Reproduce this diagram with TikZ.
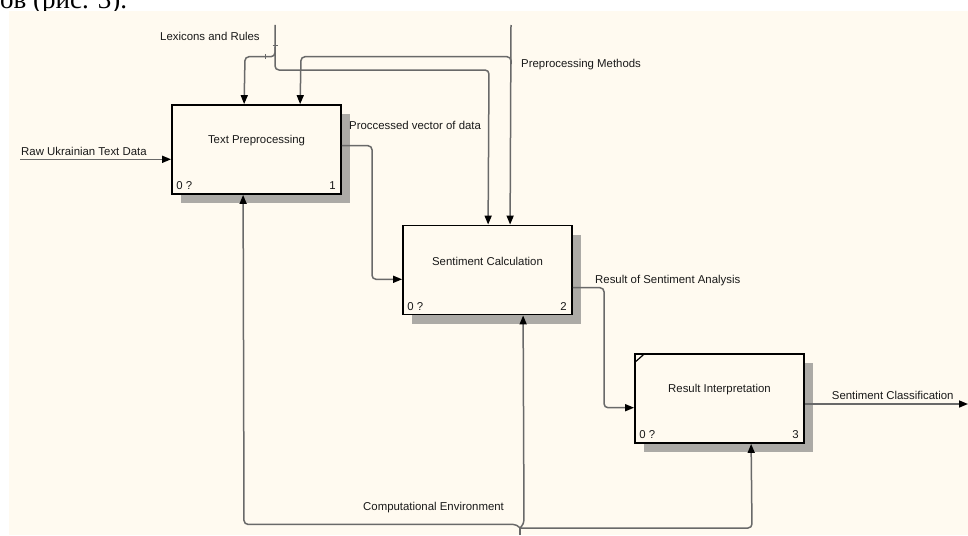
\documentclass[tikz,border=0pt]{standalone}
\usepackage{fontspec}
\setmainfont{Liberation Sans}
\newfontfamily\cyrserif{Liberation Serif}
\usetikzlibrary{arrows.meta,calc,shadows}
\definecolor{cream}{RGB}{255,250,240}
\definecolor{linegray}{RGB}{105,105,105}
\definecolor{txt}{RGB}{25,25,25}
\definecolor{shade}{RGB}{172,170,166}
\begin{document}
\begin{tikzpicture}[x=1pt,y=-1pt,
  idef/.style={draw=black, line width=1.8pt, fill=cream, minimum width=169pt, minimum height=89pt, inner sep=0pt,
    drop shadow={shadow xshift=9pt, shadow yshift=-9pt, fill=shade, opacity=1}},
  title/.style={font=\fontsize{11.4}{13}\selectfont, text=txt, inner sep=0pt},
  lbl/.style={font=\fontsize{11.4}{13}\selectfont, text=txt, inner sep=0pt, anchor=base west},
  flow/.style={draw=linegray, line width=1.5pt, rounded corners=4pt, -{Triangle[length=9pt,width=7pt,color=black]}},
  wire/.style={draw=linegray, line width=1.5pt, rounded corners=4pt},
  tick/.style={draw=linegray, line width=0.9pt},
]
\useasboundingbox (0,0) rectangle (968,535);
% page text above the figure (cut off as in the source)
\begin{scope}
  \clip (0,0) rectangle (968,11);
  \node[anchor=base west, inner sep=0pt, font=\cyrserif\fontsize{27}{30}\selectfont] (cyr) at (0,9) {ов (рис. 3).};
\end{scope}
% background
\fill[cream] (9,11) rectangle (968,535);

% boxes
\node[idef] (b1) at (256.5,149.5) {};
\node[idef] (b2) at (487.5,270) {};
\node[idef] (b3) at (719.5,398.5) {};
\draw[line width=1.2pt] ($(b3.north west)+(1,9)$) -- ($(b3.north west)+(10,1)$);

\node[title] (t1) at ($(b1.center)+(0,-9)$) {Text Preprocessing};
\node[title] (t2) at ($(b2.center)+(0,-9)$) {Sentiment Calculation};
\node[title] (t3) at ($(b3.center)+(0,-9)$) {Result Interpretation};

\node[lbl] (n1a) at ($(b1.south west)+(5,-5)$) {0 ?};
\node[lbl, anchor=base east] (n1b) at ($(b1.south east)+(-6,-5)$) {1};
\node[lbl] (n2a) at ($(b2.south west)+(5,-5)$) {0 ?};
\node[lbl, anchor=base east] (n2b) at ($(b2.south east)+(-6,-5)$) {2};
\node[lbl] (n3a) at ($(b3.south west)+(5,-5)$) {0 ?};
\node[lbl, anchor=base east] (n3b) at ($(b3.south east)+(-6,-5)$) {3};

% attachment points
\coordinate (b1top1) at ($(b1.north west)+(73,0)$);
\coordinate (b1top2) at ($(b1.north west)+(129,0)$);
\coordinate (b2top1) at ($(b2.north west)+(86,0)$);
\coordinate (b2top2) at ($(b2.north west)+(108,0)$);
\coordinate (b1bot) at ($(b1.south west)+(72,0)$);
\coordinate (b2bot) at ($(b2.south west)+(121,0)$);
\coordinate (b3bot) at ($(b3.south west)+(117,0)$);
\coordinate (b1out) at ($(b1.east)+(0,-3.8)$);
\coordinate (b2in) at ($(b2.west)+(0,9.3)$);
\coordinate (b2out) at ($(b2.east)+(0,17.7)$);
\coordinate (b3in) at ($(b3.west)+(0,9.2)$);
\coordinate (b3out) at ($(b3.east)+(0,5.5)$);

% free ends
\coordinate (rawIn) at (20,159.3);
\coordinate (lexIn) at (275,25);
\coordinate (pmIn) at (511,25);
\coordinate (clsOut) at (968,404);
\coordinate (mechIn) at (520,535);
\coordinate (mechJ) at (520,528);

% input
\draw[flow] (rawIn) -- (rawIn -| b1.west);
\node[lbl] (rawL) at (21,155) {Raw Ukrainian Text Data};

% Lexicons and Rules
\draw[flow] (lexIn) -- (275,70) -- (489,70) -- (b2top1);
\draw[flow] (275,47) -- (275,56.7) -- (245,56.7) -- (b1top1);
\draw[tick] (272.5,45) -- (277.5,45);
\draw[tick] (265,54.5) -- (265,59);
\node[lbl] (lexL) at (160,40.7) {Lexicons and Rules};

% Preprocessing Methods
\draw[flow] (pmIn) -- (b2top2);
\draw[flow] (511,64) -- (511,56.7) -- (301,56.7) -- (b1top2);
\node[lbl] (pmL) at (521,67) {Preprocessing Methods};

% outputs
\draw[flow] (b1out) -- (372,145.7) -- (372,279.3) -- (b2in);
\node[lbl] (o1L) at (349,129.7) {Proccessed vector of data};
\draw[flow] (b2out) -- (604,287.7) -- (604,407.7) -- (b3in);
\node[lbl] (o2L) at (595,283.3) {Result of Sentiment Analysis};
\draw[flow] (b3out) -- (clsOut);
\node[lbl] (o3L) at (831.7,399) {Sentiment Classification};

% mechanism
\draw[wire] (mechIn) -- (mechJ);
\draw[flow] (mechJ) -- (517,524.4) -- (244,524.4) -- (b1bot);
\draw[flow] (mechJ) -- (524,524) -- (b2bot);
\draw[flow] (mechJ) -- (752,528) -- (b3bot);
\node[lbl] (mL) at (363,510.7) {Computational Environment};
\end{tikzpicture}
\end{document}
